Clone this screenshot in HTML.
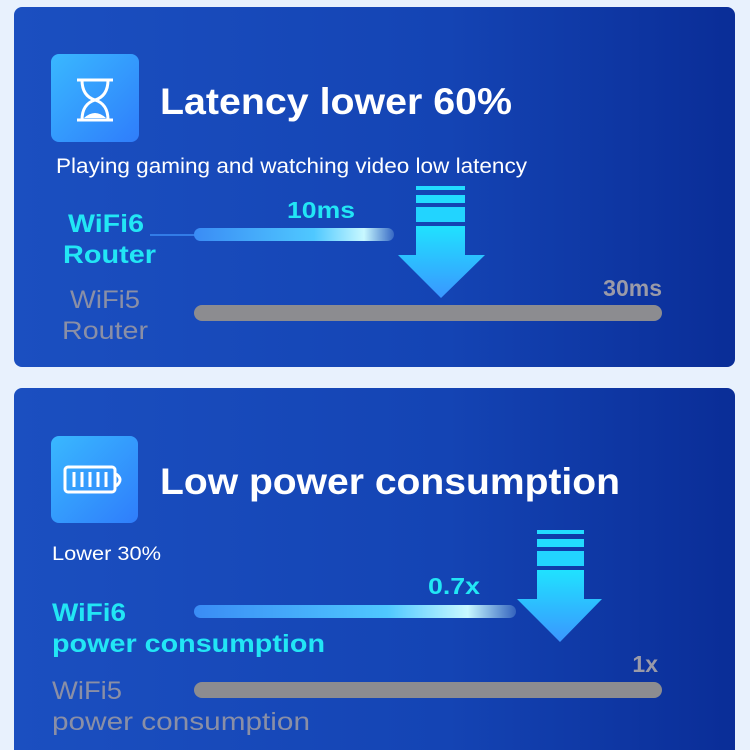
<!DOCTYPE html>
<html><head><meta charset="utf-8"><style>
html,body{margin:0;padding:0;background:#e8f1fd;width:750px;height:750px;overflow:hidden}
svg{display:block}
text{font-family:"Liberation Sans",sans-serif}
</style></head><body>
<svg width="750" height="750" viewBox="0 0 750 750" xmlns="http://www.w3.org/2000/svg">
<defs>
<linearGradient id="pg" x1="0" y1="0" x2="1" y2="0">
<stop offset="0" stop-color="#1b4fc0"/><stop offset="0.6" stop-color="#1444b4"/><stop offset="1" stop-color="#0a2d97"/></linearGradient>
<linearGradient id="ig" x1="0" y1="0" x2="1" y2="1">
<stop offset="0" stop-color="#39b8ff"/><stop offset="1" stop-color="#2f7dfb"/></linearGradient>
<linearGradient id="ar" x1="0" y1="0" x2="0" y2="1">
<stop offset="0" stop-color="#20e2ff"/><stop offset="1" stop-color="#3a96ff"/></linearGradient>
<linearGradient id="bb" x1="0" y1="0" x2="1" y2="0">
<stop offset="0" stop-color="#3a8cf5"/><stop offset="0.6" stop-color="#4fc8ff"/><stop offset="0.85" stop-color="#c8f8ff"/><stop offset="1" stop-color="#bff4ff" stop-opacity="0.2"/></linearGradient>
</defs>
<rect x="14" y="7" width="721" height="360" rx="8" fill="url(#pg)"/>
<rect x="51" y="54" width="88" height="88" rx="8" fill="url(#ig)"/>
<g stroke="#fff" stroke-width="3" fill="none">
<line x1="77" y1="80" x2="113" y2="80"/><line x1="77" y1="120" x2="113" y2="120"/>
<path d="M82 80 Q82 96 95 100 Q108 96 108 80"/><path d="M82 120 Q82 104 95 100 Q108 104 108 120"/>
</g>
<path d="M84 118 Q95 108 106 118Z" fill="#fff"/>
<text x="160" y="114" font-size="37" font-weight="bold" fill="#fff" textLength="352" lengthAdjust="spacingAndGlyphs">Latency lower 60%</text>
<text x="56" y="173" font-size="21" fill="#fff" textLength="471" lengthAdjust="spacingAndGlyphs">Playing gaming and watching video low latency</text>
<text x="287" y="218" font-size="23" font-weight="bold" fill="#22e6f5" textLength="68" lengthAdjust="spacingAndGlyphs">10ms</text>
<text x="68" y="232" font-size="25" font-weight="bold" fill="#22e6f5" textLength="76" lengthAdjust="spacingAndGlyphs">WiFi6</text>
<text x="63" y="263" font-size="25" font-weight="bold" fill="#22e6f5" textLength="93" lengthAdjust="spacingAndGlyphs">Router</text>
<line x1="150" y1="235" x2="200" y2="235" stroke="#3a8cf5" stroke-width="1.5"/>
<rect x="194" y="228" width="200" height="13" rx="6.5" fill="url(#bb)"/>
<rect x="416" y="186" width="49" height="4" fill="#22dcff"/>
<rect x="416" y="195" width="49" height="8" fill="#22dcff"/>
<rect x="416" y="207" width="49" height="15" fill="#22d4ff"/>
<path d="M416 226H465V255H485L441 298L398 255H416Z" fill="url(#ar)"/>
<text x="662" y="296" font-size="23" font-weight="bold" fill="#9a9aa8" text-anchor="end">30ms</text>
<text x="70" y="308" font-size="25" fill="#8a8fa6" textLength="70" lengthAdjust="spacingAndGlyphs">WiFi5</text>
<text x="62" y="339" font-size="25" fill="#8a8fa6" textLength="86" lengthAdjust="spacingAndGlyphs">Router</text>
<rect x="194" y="305" width="468" height="16" rx="8" fill="#8c8c90"/>
<rect x="14" y="388" width="721" height="372" rx="8" fill="url(#pg)"/>
<rect x="51" y="436" width="87" height="87" rx="8" fill="url(#ig)"/>
<g stroke="#fff" stroke-width="3" fill="none">
<rect x="65" y="467" width="50" height="25" rx="3"/>
<path d="M116 474 Q124 479.5 116 486"/>
</g>
<g stroke="#fff" stroke-width="3"><line x1="74" y1="472" x2="74" y2="487"/><line x1="82" y1="472" x2="82" y2="487"/><line x1="90" y1="472" x2="90" y2="487"/><line x1="98" y1="472" x2="98" y2="487"/><line x1="106" y1="472" x2="106" y2="487"/></g>
<text x="160" y="494" font-size="37" font-weight="bold" fill="#fff" textLength="460" lengthAdjust="spacingAndGlyphs">Low power consumption</text>
<text x="52" y="560" font-size="19" fill="#fff" textLength="109" lengthAdjust="spacingAndGlyphs">Lower 30%</text>
<text x="428" y="594" font-size="23" font-weight="bold" fill="#22e6f5" textLength="52" lengthAdjust="spacingAndGlyphs">0.7x</text>
<text x="52" y="621" font-size="25" font-weight="bold" fill="#22e6f5" textLength="74" lengthAdjust="spacingAndGlyphs">WiFi6</text>
<text x="52" y="652" font-size="25" font-weight="bold" fill="#22e6f5" textLength="273" lengthAdjust="spacingAndGlyphs">power consumption</text>
<rect x="194" y="605" width="322" height="13" rx="6.5" fill="url(#bb)"/>
<rect x="537" y="530" width="47" height="4" fill="#22dcff"/>
<rect x="537" y="539" width="47" height="8" fill="#22dcff"/>
<rect x="537" y="551" width="47" height="15" fill="#22d4ff"/>
<path d="M537 570H584V599H602L560 642L517 599H537Z" fill="url(#ar)"/>
<text x="658" y="672" font-size="23" font-weight="bold" fill="#9a9aa8" text-anchor="end">1x</text>
<text x="52" y="699" font-size="25" fill="#8a8fa6" textLength="70" lengthAdjust="spacingAndGlyphs">WiFi5</text>
<text x="52" y="730" font-size="25" fill="#8a8fa6" textLength="258" lengthAdjust="spacingAndGlyphs">power consumption</text>
<rect x="194" y="682" width="468" height="16" rx="8" fill="#8c8c90"/>
</svg>
</body></html>
